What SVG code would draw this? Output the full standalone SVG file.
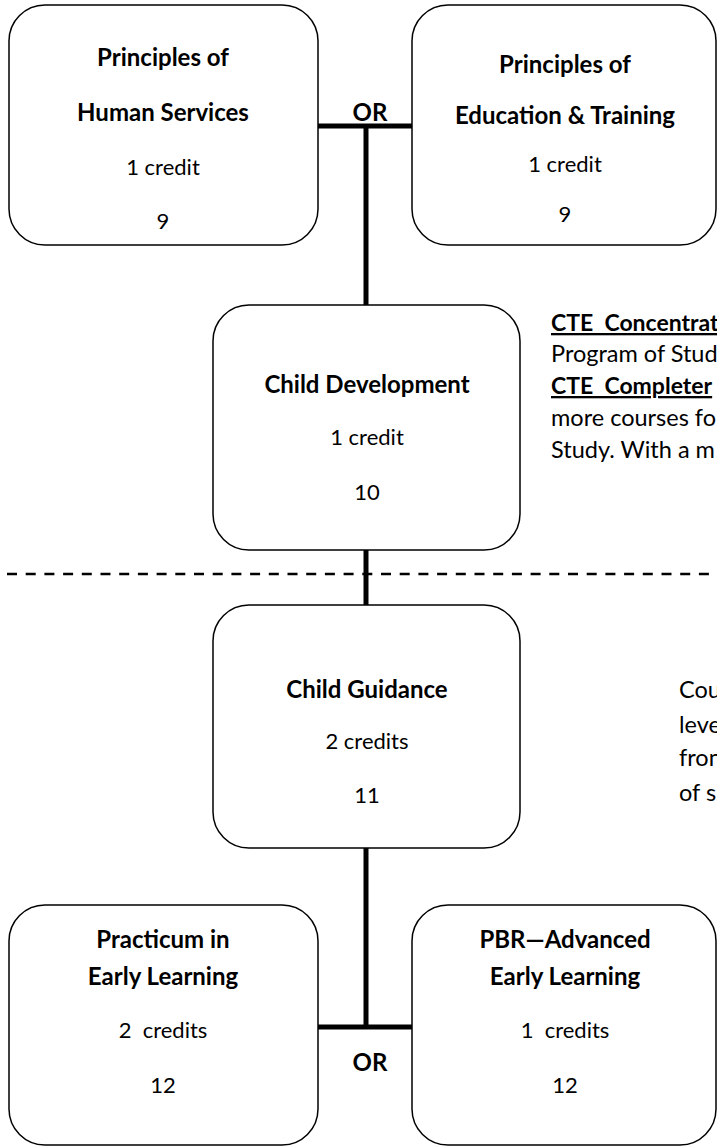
<svg xmlns="http://www.w3.org/2000/svg" width="717" height="1147" viewBox="0 0 717 1147">
<style>
.box{fill:#fff;stroke:#000;stroke-width:1.5}
.t{font-family:Lato,"Liberation Sans",sans-serif;font-size:22px;fill:#000;text-anchor:middle}
.b{font-weight:bold;font-size:24px}
.side{font-family:Lato,"Liberation Sans",sans-serif;font-size:23.5px;fill:#000}
.sb{font-weight:bold;font-size:23px}
.conn{stroke:#000;stroke-width:5;fill:none}
.dash{stroke:#000;stroke-width:2.5;stroke-dasharray:10 8.7;fill:none}
</style>
<rect width="717" height="1147" fill="#fff"/>
<g id="connectors">
<line class="conn" x1="318" y1="126" x2="413" y2="126"/>
<line class="conn" x1="366" y1="126" x2="366" y2="305"/>
<line class="conn" x1="366" y1="550" x2="366" y2="605"/>
<line class="conn" x1="366" y1="848" x2="366" y2="1027"/>
<line class="conn" x1="318" y1="1027" x2="413" y2="1027"/>
<line class="dash" x1="7" y1="574" x2="717" y2="574"/>
<text class="t b" x="370" y="121">OR</text>
<text class="t b" x="370" y="1071">OR</text>
</g>
<g id="node-hs">
<rect class="box" x="9" y="5" width="309" height="240" rx="36"/>
<text class="t b" x="163" y="66">Principles of</text>
<text class="t b" x="163" y="121">Human Services</text>
<text class="t" x="163" y="175">1 credit</text>
<text class="t" x="163" y="229">9</text>
</g>
<g id="node-et">
<rect class="box" x="412" y="5" width="304" height="240" rx="36"/>
<text class="t b" x="565" y="73">Principles of</text>
<text class="t b" x="565" y="124">Education &amp; Training</text>
<text class="t" x="565" y="172">1 credit</text>
<text class="t" x="565" y="222">9</text>
</g>
<g id="node-cd">
<rect class="box" x="213" y="305" width="307" height="245" rx="36"/>
<text class="t b" x="367" y="393">Child Development</text>
<text class="t" x="367" y="445">1 credit</text>
<text class="t" x="367" y="500">10</text>
</g>
<g id="node-cg">
<rect class="box" x="213" y="605" width="307" height="243" rx="36"/>
<text class="t b" x="367" y="698">Child Guidance</text>
<text class="t" x="367" y="749">2 credits</text>
<text class="t" x="367" y="803">11</text>
</g>
<g id="node-pel">
<rect class="box" x="9" y="905" width="309" height="240" rx="36"/>
<text class="t b" x="163" y="948">Practicum in</text>
<text class="t b" x="163" y="985">Early Learning</text>
<text class="t" x="163" y="1038" xml:space="preserve">2  credits</text>
<text class="t" x="163" y="1093">12</text>
</g>
<g id="node-pbr">
<rect class="box" x="412" y="905" width="304" height="240" rx="36"/>
<text class="t b" x="565" y="948">PBR—Advanced</text>
<text class="t b" x="565" y="985">Early Learning</text>
<text class="t" x="565" y="1038" xml:space="preserve">1  credits</text>
<text class="t" x="565" y="1093">12</text>
</g>
<g id="notes">
<text class="side sb" x="551" y="331" text-decoration="underline" xml:space="preserve">CTE  Concentrat</text>
<text class="side" x="551" y="362">Program of Stud</text>
<text class="side sb" x="551" y="394" text-decoration="underline" xml:space="preserve">CTE  Completer</text>
<text class="side" x="551" y="426">more courses fo</text>
<text class="side" x="551" y="458">Study. With a m</text>
<text class="side" x="679" y="698">Cou</text>
<text class="side" x="679" y="733">leve</text>
<text class="side" x="679" y="766">fron</text>
<text class="side" x="679" y="801">of s</text>
</g>
</svg>
